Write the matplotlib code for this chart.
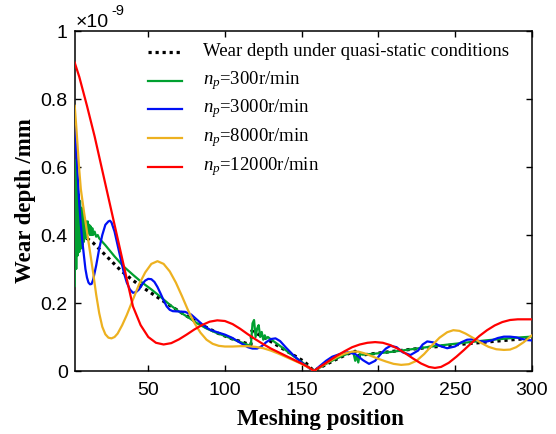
import matplotlib
matplotlib.use("Agg")
import matplotlib.pyplot as plt
from matplotlib.lines import Line2D
from matplotlib.ticker import FuncFormatter, FixedLocator

plt.rcParams['mathtext.fontset'] = 'custom'
plt.rcParams['mathtext.rm'] = 'Liberation Serif'
plt.rcParams['mathtext.it'] = 'Liberation Serif:italic'

# ---------------- data (wear depth in units of 1e-9 mm) ----------------
x_qs = [2, 5, 10, 14, 20, 26, 32, 39, 45, 50, 58, 65, 75, 85, 95, 105, 112, 117,
        117.5, 125, 135, 145, 152, 158, 165, 172, 180, 185, 186, 195, 210, 230,
        250, 270, 290, 300]
y_qs = [0.44, 0.415, 0.39, 0.377, 0.35, 0.323, 0.296, 0.27, 0.25, 0.235, 0.211,
        0.19, 0.162, 0.135, 0.112, 0.094, 0.084, 0.077, 0.118, 0.1, 0.073, 0.046,
        0.027, 0.0, 0.017, 0.033, 0.05, 0.058, 0.045, 0.05, 0.058, 0.068, 0.077,
        0.085, 0.093, 0.096]

x_300 = [2, 2.5, 3, 3.5, 4, 4.5, 5, 5.5, 6, 6.5, 7, 7.5, 8, 8.5, 9, 9.5, 10, 10.5,
         11, 11.5, 12, 12.5, 13, 13.5, 14, 15, 16, 17, 18, 22, 28, 34, 40, 46, 52,
         58, 64, 70, 76, 82, 88, 94, 100, 106, 112, 116, 117, 118, 119, 120, 121,
         122, 123, 124, 125, 126, 127, 128, 130, 135, 140, 145, 150, 155, 158, 163,
         168, 173, 178, 183, 184, 185, 186, 187, 188, 190, 200, 210, 220, 230, 240,
         250, 260, 270, 280, 290, 300]
y_300 = [0.25, 0.62, 0.30, 0.56, 0.34, 0.52, 0.35, 0.50, 0.36, 0.48, 0.37, 0.47,
         0.38, 0.45, 0.39, 0.44, 0.40, 0.44, 0.405, 0.43, 0.40, 0.425, 0.40, 0.42,
         0.40, 0.41, 0.395, 0.40, 0.39, 0.37, 0.337, 0.307, 0.283, 0.26, 0.24,
         0.218, 0.195, 0.175, 0.158, 0.14, 0.125, 0.113, 0.103, 0.092, 0.082,
         0.075, 0.08, 0.14, 0.15, 0.1, 0.125, 0.135, 0.1, 0.115, 0.092, 0.105,
         0.095, 0.1, 0.093, 0.077, 0.06, 0.043, 0.027, 0.01, 0.0, 0.013, 0.026,
         0.037, 0.047, 0.056, 0.05, 0.03, 0.045, 0.025, 0.05, 0.048, 0.052, 0.057,
         0.063, 0.069, 0.075, 0.08, 0.085, 0.09, 0.094, 0.098, 0.101]

x_3000 = [2, 3, 4, 5, 6, 7, 8, 9, 10, 11, 12, 13, 14, 16, 18, 20, 22, 24, 25, 26,
          28, 30, 32, 34, 36, 38, 40, 42, 44, 46, 48, 50, 52, 54, 56, 58, 60, 62,
          64, 66, 70, 74, 78, 82, 86, 90, 95, 100, 105, 110, 115, 118, 121, 124,
          127, 130, 133, 136, 140, 145, 150, 155, 158, 162, 166, 170, 175, 180,
          185, 190, 194, 198, 202, 205, 208, 212, 216, 221, 226, 229, 232, 236,
          240, 245, 250, 254, 258, 262, 266, 270, 274, 278, 282, 286, 290, 294,
          297, 300]
y_3000 = [0.72, 0.65, 0.57, 0.49, 0.43, 0.38, 0.34, 0.30, 0.275, 0.26, 0.255,
          0.256, 0.268, 0.31, 0.36, 0.40, 0.43, 0.44, 0.442, 0.437, 0.41, 0.37,
          0.33, 0.29, 0.26, 0.24, 0.23, 0.232, 0.24, 0.255, 0.266, 0.271, 0.27,
          0.262, 0.247, 0.228, 0.208, 0.19, 0.18, 0.176, 0.175, 0.174, 0.166,
          0.15, 0.134, 0.122, 0.114, 0.107, 0.097, 0.083, 0.07, 0.066, 0.066,
          0.073, 0.085, 0.094, 0.096, 0.088, 0.068, 0.045, 0.025, 0.008, 0.0,
          0.015, 0.03, 0.042, 0.05, 0.055, 0.05, 0.032, 0.021, 0.03, 0.052, 0.066,
          0.074, 0.07, 0.055, 0.047, 0.06, 0.078, 0.087, 0.084, 0.074, 0.067,
          0.072, 0.084, 0.092, 0.093, 0.088, 0.086, 0.09, 0.097, 0.101, 0.101,
          0.099, 0.094, 0.091, 0.09]

x_8000 = [2, 3, 4, 5, 6, 8, 10, 12, 14, 16, 18, 20, 22, 24, 26, 28, 30, 33, 36,
          40, 44, 48, 52, 56, 60, 64, 68, 72, 76, 80, 84, 88, 92, 96, 100, 105,
          110, 115, 120, 125, 130, 135, 140, 145, 150, 155, 158, 163, 168, 173,
          178, 183, 187, 191, 195, 200, 205, 210, 215, 220, 225, 230, 235, 240,
          245, 249, 253, 257, 262, 267, 272, 277, 282, 286, 290, 295, 300]
y_8000 = [0.78, 0.72, 0.655, 0.59, 0.535, 0.47, 0.41, 0.35, 0.29, 0.225, 0.17,
          0.13, 0.108, 0.098, 0.096, 0.1, 0.11, 0.135, 0.165, 0.21, 0.255, 0.29,
          0.315, 0.323, 0.315, 0.293, 0.26, 0.22, 0.178, 0.142, 0.113, 0.092,
          0.08, 0.074, 0.072, 0.072, 0.073, 0.073, 0.071, 0.067, 0.06, 0.051,
          0.041, 0.031, 0.021, 0.009, 0.0, 0.014, 0.028, 0.041, 0.051, 0.057,
          0.057, 0.052, 0.045, 0.036, 0.028, 0.021, 0.018, 0.02, 0.03, 0.05,
          0.075, 0.098, 0.114, 0.12, 0.118, 0.11, 0.097, 0.083, 0.071, 0.064,
          0.062, 0.063, 0.07, 0.085, 0.104]

x_12000 = [2, 5, 10, 15, 20, 25, 30, 35, 40, 45, 50, 55, 60, 65, 70, 75, 80, 85,
           90, 95, 100, 105, 110, 115, 120, 125, 130, 135, 140, 145, 150, 155,
           158, 163, 168, 173, 178, 183, 188, 193, 198, 203, 208, 213, 218, 223,
           228, 233, 237, 241, 246, 251, 256, 261, 266, 271, 276, 281, 286, 291,
           296, 300]
y_12000 = [0.907, 0.865, 0.78, 0.69, 0.59, 0.49, 0.39, 0.29, 0.19, 0.135, 0.1,
           0.083, 0.078, 0.082, 0.093, 0.107, 0.122, 0.135, 0.145, 0.149, 0.147,
           0.138, 0.124, 0.108, 0.093, 0.079, 0.066, 0.055, 0.044, 0.033, 0.022,
           0.01, 0.0, 0.015, 0.03, 0.045, 0.058, 0.07, 0.078, 0.083, 0.085, 0.083,
           0.076, 0.065, 0.051, 0.036, 0.022, 0.012, 0.009, 0.012, 0.024, 0.042,
           0.062, 0.083, 0.103, 0.12, 0.134, 0.144, 0.15, 0.152, 0.152, 0.152]

labels = ['Wear depth under quasi-static conditions',
          r'$n_p$=300r/min', r'$n_p$=3000r/min',
          r'$n_p$=8000r/min', r'$n_p$=12000r/min']
colors = ['black', '#00a030', '#0010f5', '#edb120', '#ff0000']
x_ticks = [50, 100, 150, 200, 250, 300]
y_ticks = [0, 0.2, 0.4, 0.6, 0.8, 1]

# ---------------- figure ----------------
W, H = 556, 434
fig = plt.figure(figsize=(W / 100, H / 100), dpi=100)
ax_l, ax_r, ax_b, ax_t = 74.7, 531.5, 371.0, 31.0   # axes box in pixels
ax = fig.add_axes([ax_l / W, 1 - ax_b / H, (ax_r - ax_l) / W, (ax_b - ax_t) / H])

series = [(x_qs, y_qs), (x_300, y_300), (x_3000, y_3000),
          (x_8000, y_8000), (x_12000, y_12000)]
styles = []
for i, ((xs, ys), lab, col) in enumerate(zip(series, labels, colors)):
    if i == 0:
        st = dict(color=col, lw=2.3, ls=(0, (1.0, 1.2)))
    else:
        st = dict(color=col, lw=1.6, ls='-')
    styles.append(st)
    ax.plot(xs, ys, label=lab, zorder=3 + i, **st)

ax.set_xlim(2, 300)
ax.set_ylim(0, 1)
ax.xaxis.set_major_locator(FixedLocator(x_ticks))
ax.yaxis.set_major_locator(FixedLocator(y_ticks))
ax.yaxis.set_major_formatter(FuncFormatter(lambda v, p: f'{v:g}'))
ax.tick_params(direction='in', length=4, width=1, top=True, right=True,
               labelsize=14)
ax.tick_params(axis='x', pad=8)
ax.tick_params(axis='y', pad=5)
for lbl in ax.get_xticklabels() + ax.get_yticklabels():
    lbl.set_fontfamily('Liberation Sans')
for s in ax.spines.values():
    s.set_linewidth(1.1)

ax.set_xlabel('Meshing position', fontfamily='Liberation Serif',
              fontweight='bold', fontsize=16.5, labelpad=7)
ax.xaxis.label.set_x((320 - ax_l) / (ax_r - ax_l))
ax.set_ylabel('Wear depth /mm', fontfamily='Liberation Serif',
              fontweight='bold', fontsize=16.5, labelpad=3)

fig.text(76 / W, 1 - 27 / H, '×10', fontfamily='Liberation Sans',
         fontsize=14, va='baseline', ha='left')
fig.text(111 / W, 1 - 15 / H, '-9', fontfamily='Liberation Sans',
         fontsize=10.5, va='baseline', ha='left')

# ---- legend (rows placed at evenly spaced positions, no frame) ----
def fx(px):
    return (px - ax_l) / (ax_r - ax_l)

def fy(py):
    return (ax_b - py) / (ax_b - ax_t)

row_y = [52.3, 80.5, 109.0, 137.5, 166.5]
for lab, st, py in zip(labels, styles, row_y):
    ax.add_line(Line2D([fx(148), fx(182)], [fy(py), fy(py)],
                       transform=ax.transAxes, clip_on=False, **st))
    ax.text(fx(203), fy(py + 3.6), lab, transform=ax.transAxes,
            fontfamily='Liberation Serif', fontsize=13.5,
            ha='left', va='baseline')

fig.savefig('out.png', dpi=100)
